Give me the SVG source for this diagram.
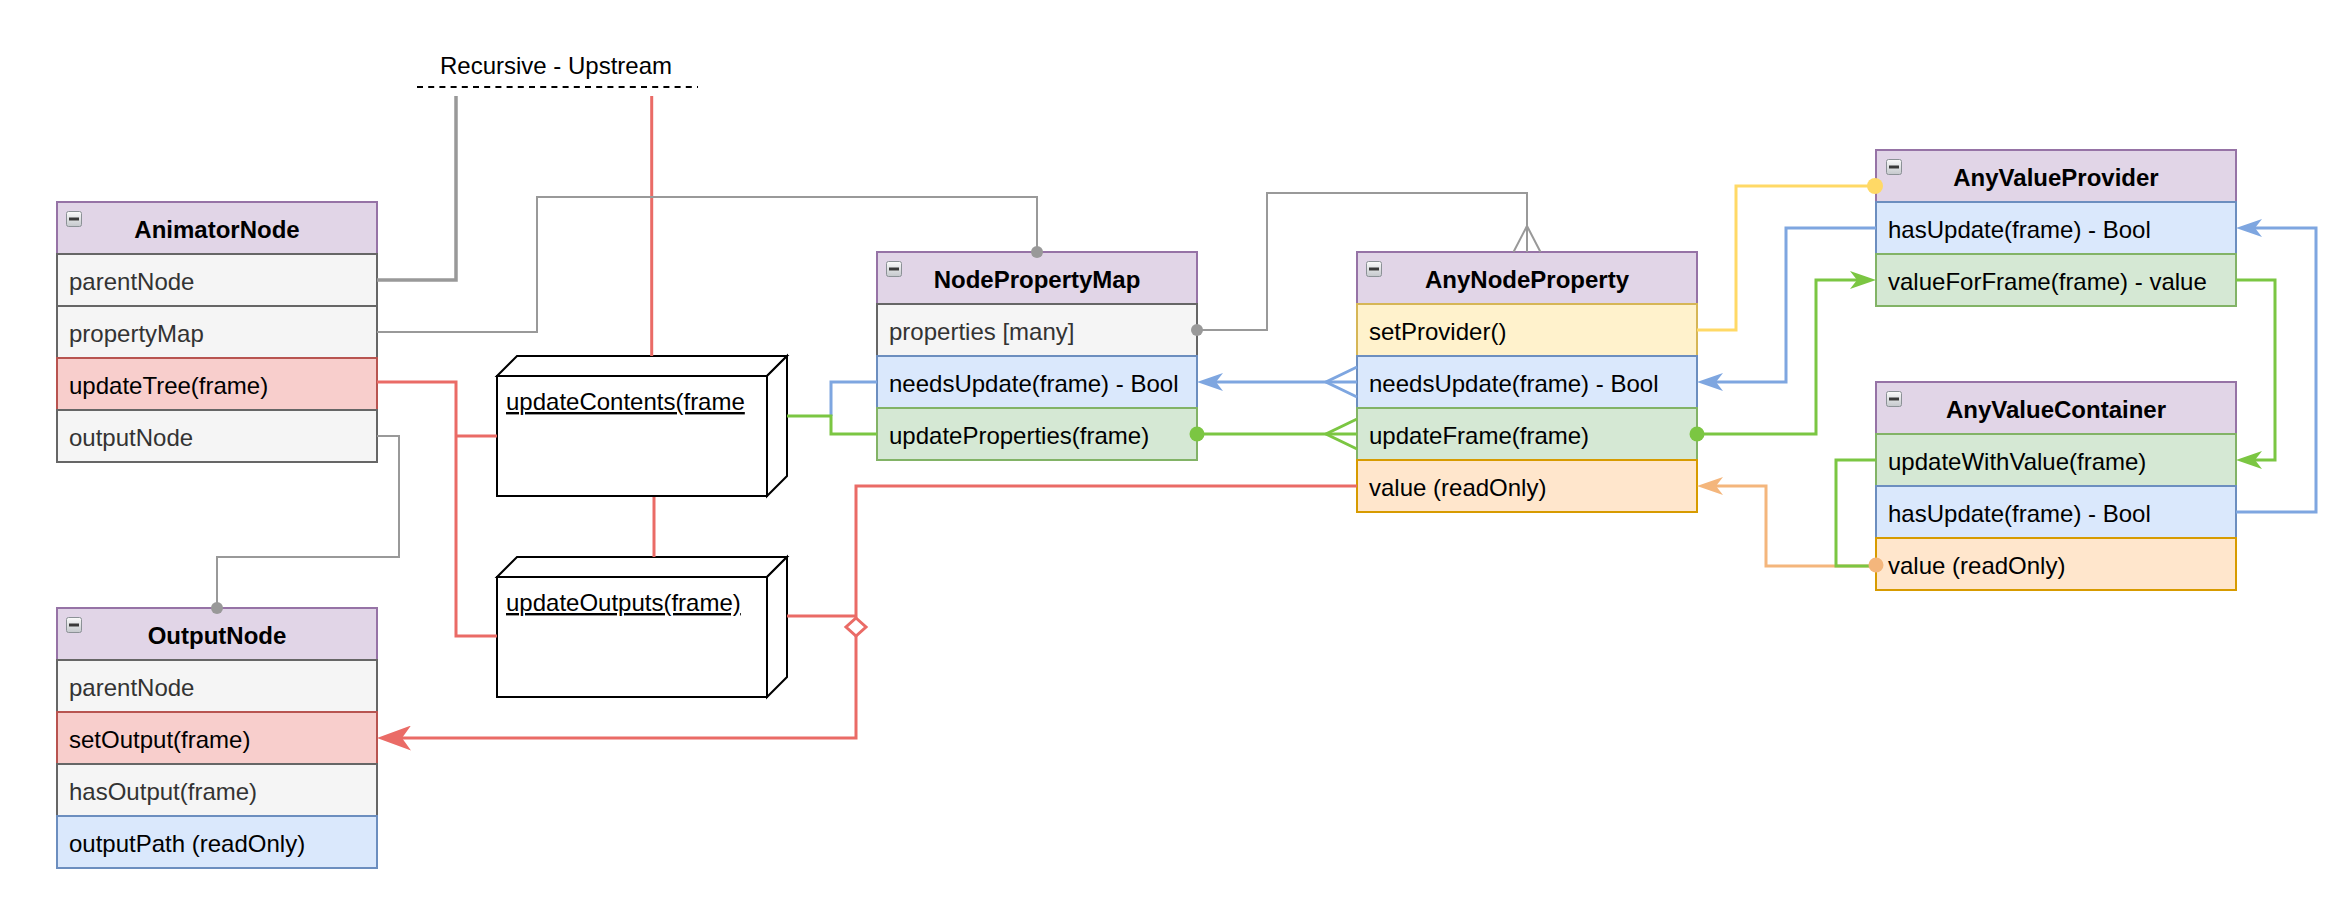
<svg xmlns="http://www.w3.org/2000/svg" width="2344" height="916" viewBox="0 0 2344 916">
<defs>
<linearGradient id="icoGrad" x1="0" y1="0" x2="0" y2="1">
<stop offset="0" stop-color="#fbfbfb"/>
<stop offset="1" stop-color="#c4c8cc"/>
</linearGradient>
<g id="ico">
<rect x="0.5" y="0.5" width="15" height="15" rx="2" fill="url(#icoGrad)" stroke="#8b9196" stroke-width="1"/>
<rect x="3" y="6.5" width="10" height="3" fill="#3a3a3a"/>
</g>
<marker id="aBlue" markerUnits="userSpaceOnUse" viewBox="0 0 26 18" markerWidth="26" markerHeight="18" refX="16" refY="9" orient="auto"><path d="M0,0 L26,9 L0,18 L7,9 Z" fill="#7EA6E0"/></marker>
<marker id="aGreen" markerUnits="userSpaceOnUse" viewBox="0 0 26 18" markerWidth="26" markerHeight="18" refX="16" refY="9" orient="auto"><path d="M0,0 L26,9 L0,18 L7,9 Z" fill="#7BC642"/></marker>
<marker id="aOrange" markerUnits="userSpaceOnUse" viewBox="0 0 26 18" markerWidth="26" markerHeight="18" refX="16" refY="9" orient="auto"><path d="M0,0 L26,9 L0,18 L7,9 Z" fill="#F4B67C"/></marker>
<marker id="aRed" markerUnits="userSpaceOnUse" viewBox="0 0 34 25" markerWidth="34" markerHeight="25" refX="24" refY="12.5" orient="auto"><path d="M0,0 L34,12.5 L0,25 L9,12.5 Z" fill="#EA6B66"/></marker>
</defs>
<style>
text{font-family:"Liberation Sans",Arial,Helvetica,sans-serif;font-size:24px}
.hd{fill:#e1d5e7;stroke:#9673a6;stroke-width:2}
.ttl{font-weight:bold;fill:#000;text-anchor:middle}
.gr{fill:#f5f5f5;stroke:#666666;stroke-width:2}
.rd{fill:#f8cecc;stroke:#b85450;stroke-width:2}
.bl{fill:#dae8fc;stroke:#6c8ebf;stroke-width:2}
.gn{fill:#d5e8d4;stroke:#82b366;stroke-width:2}
.yl{fill:#fff2cc;stroke:#d6b656;stroke-width:2}
.or{fill:#ffe6cc;stroke:#d79b00;stroke-width:2}
.tg{fill:#333333}
.tb{fill:#000000}
.box{fill:#ffffff;stroke:#000000;stroke-width:2;stroke-linejoin:miter}
.ul{text-decoration:underline;fill:#000}
.c{fill:none;stroke-linejoin:miter}
.cR{stroke:#EA6B66;stroke-width:3}
.cB{stroke:#7EA6E0;stroke-width:3}
.cG{stroke:#7BC642;stroke-width:3}
.cY{stroke:#FFD966;stroke-width:3}
.cO{stroke:#F4B67C;stroke-width:3}
.cg{stroke:#999999;stroke-width:2}
.cgT{stroke:#999999;stroke-width:3.5}
</style>
<rect width="2344" height="916" fill="#ffffff"/>

<g id="recursive-upstream">
<text x="556" y="74" text-anchor="middle" fill="#000">Recursive - Upstream</text>
<line x1="417" y1="87" x2="698" y2="87" stroke="#000" stroke-width="2" stroke-dasharray="6 5.2"/>
</g>

<g id="AnimatorNode">
<rect class="hd" x="57" y="202" width="320" height="52"/>
<use href="#ico" x="66" y="211"/>
<text class="ttl" x="217" y="238">AnimatorNode</text>
<rect class="gr" x="57" y="254" width="320" height="52"/>
<text class="tg" x="69" y="290">parentNode</text>
<rect class="gr" x="57" y="306" width="320" height="52"/>
<text class="tg" x="69" y="342">propertyMap</text>
<rect class="rd" x="57" y="358" width="320" height="52"/>
<text class="tb" x="69" y="394">updateTree(frame)</text>
<rect class="gr" x="57" y="410" width="320" height="52"/>
<text class="tg" x="69" y="446">outputNode</text>
</g>

<g id="OutputNode">
<rect class="hd" x="57" y="608" width="320" height="52"/>
<use href="#ico" x="66" y="617"/>
<text class="ttl" x="217" y="644">OutputNode</text>
<rect class="gr" x="57" y="660" width="320" height="52"/>
<text class="tg" x="69" y="696">parentNode</text>
<rect class="rd" x="57" y="712" width="320" height="52"/>
<text class="tb" x="69" y="748">setOutput(frame)</text>
<rect class="gr" x="57" y="764" width="320" height="52"/>
<text class="tg" x="69" y="800">hasOutput(frame)</text>
<rect class="bl" x="57" y="816" width="320" height="52"/>
<text class="tb" x="69" y="852">outputPath (readOnly)</text>
</g>

<g id="updateContents">
<rect class="box" x="497" y="376" width="270" height="120"/>
<path class="box" d="M497,376 L517,356 L787,356 L767,376 Z"/>
<path class="box" d="M767,376 L787,356 L787,476 L767,496 Z"/>
<text class="ul" x="506" y="410">updateContents(frame</text>
</g>

<g id="updateOutputs">
<rect class="box" x="497" y="577" width="270" height="120"/>
<path class="box" d="M497,577 L517,557 L787,557 L767,577 Z"/>
<path class="box" d="M767,577 L787,557 L787,677 L767,697 Z"/>
<text class="ul" x="506" y="611">updateOutputs(frame)</text>
</g>

<g id="NodePropertyMap">
<rect class="hd" x="877" y="252" width="320" height="52"/>
<use href="#ico" x="886" y="261"/>
<text class="ttl" x="1037" y="288">NodePropertyMap</text>
<rect class="gr" x="877" y="304" width="320" height="52"/>
<text class="tg" x="889" y="340">properties [many]</text>
<rect class="bl" x="877" y="356" width="320" height="52"/>
<text class="tb" x="889" y="392">needsUpdate(frame) - Bool</text>
<rect class="gn" x="877" y="408" width="320" height="52"/>
<text class="tb" x="889" y="444">updateProperties(frame)</text>
</g>

<g id="AnyNodeProperty">
<rect class="hd" x="1357" y="252" width="340" height="52"/>
<use href="#ico" x="1366" y="261"/>
<text class="ttl" x="1527" y="288">AnyNodeProperty</text>
<rect class="yl" x="1357" y="304" width="340" height="52"/>
<text class="tb" x="1369" y="340">setProvider()</text>
<rect class="bl" x="1357" y="356" width="340" height="52"/>
<text class="tb" x="1369" y="392">needsUpdate(frame) - Bool</text>
<rect class="gn" x="1357" y="408" width="340" height="52"/>
<text class="tb" x="1369" y="444">updateFrame(frame)</text>
<rect class="or" x="1357" y="460" width="340" height="52"/>
<text class="tb" x="1369" y="496">value (readOnly)</text>
</g>

<g id="AnyValueProvider">
<rect class="hd" x="1876" y="150" width="360" height="52"/>
<use href="#ico" x="1886" y="159"/>
<text class="ttl" x="2056" y="186">AnyValueProvider</text>
<rect class="bl" x="1876" y="202" width="360" height="52"/>
<text class="tb" x="1888" y="238">hasUpdate(frame) - Bool</text>
<rect class="gn" x="1876" y="254" width="360" height="52"/>
<text class="tb" x="1888" y="290">valueForFrame(frame) - value</text>
</g>

<g id="AnyValueContainer">
<rect class="hd" x="1876" y="382" width="360" height="52"/>
<use href="#ico" x="1886" y="391"/>
<text class="ttl" x="2056" y="418">AnyValueContainer</text>
<rect class="gn" x="1876" y="434" width="360" height="52"/>
<text class="tb" x="1888" y="470">updateWithValue(frame)</text>
<rect class="bl" x="1876" y="486" width="360" height="52"/>
<text class="tb" x="1888" y="522">hasUpdate(frame) - Bool</text>
<rect class="or" x="1876" y="538" width="360" height="52"/>
<text class="tb" x="1888" y="574">value (readOnly)</text>
</g>

<g id="connectors">
<path class="c cgT" d="M377,280 H456 V96"/>
<path class="c cR" d="M651.7,96 V356"/>
<path class="c cg" d="M377,332 H537 V197 H1037 V252"/>
<circle cx="1037" cy="252" r="6" fill="#999999"/>
<path class="c cg" d="M1197,330 H1267 V193 H1527 V252"/>
<circle cx="1197" cy="330" r="6" fill="#999999"/>
<path class="c cg" d="M1513.5,252 L1527,226 L1540.5,252"/>
<path class="c cg" d="M377,436 H399 V557 H217 V608"/>
<circle cx="217" cy="608" r="6" fill="#999999"/>
<path class="c cR" d="M377,382 H456 V636 H497"/>
<path class="c cR" d="M456,436 H497"/>
<path class="c cR" d="M654,497 V557"/>
<path class="c cR" d="M787,616 H856"/>
<path class="c cR" d="M1357,486 H856 V738 H387" marker-end="url(#aRed)"/>
<path d="M856,618 L866,627 L856,636 L846,627 Z" fill="#ffffff" stroke="#EA6B66" stroke-width="3"/>
<path class="c cB" d="M1357,382 H1207" marker-end="url(#aBlue)"/>
<path class="c cB" d="M1357,367 L1326,382 L1357,397"/>
<path class="c cG" d="M1357,434 H1197"/>
<circle cx="1197" cy="434" r="7.5" fill="#7BC642"/>
<path class="c cG" d="M1357,419 L1326,434 L1357,449"/>
<path class="c cB" d="M877,382 H831 V416"/>
<path class="c cG" d="M787,416 H831 V434 H877"/>
<path class="c cY" d="M1697,330 H1736 V186 H1875"/>
<circle cx="1875" cy="186" r="8" fill="#FFD966"/>
<path class="c cB" d="M1876,228 H1786 V382 H1707" marker-end="url(#aBlue)"/>
<path class="c cG" d="M1697,434 H1816 V280 H1866" marker-end="url(#aGreen)"/>
<circle cx="1697" cy="434" r="7.5" fill="#7BC642"/>
<path class="c cG" d="M2236,280 H2275 V460 H2246" marker-end="url(#aGreen)"/>
<path class="c cB" d="M2236,512 H2316 V228 H2246" marker-end="url(#aBlue)"/>
<path class="c cO" d="M1876,566 H1766 V486 H1707" marker-end="url(#aOrange)"/>
<path class="c cG" d="M1876,460 H1836 V566 H1876"/>
<circle cx="1876" cy="565" r="7.5" fill="#F4B67C"/>
</g>
</svg>
